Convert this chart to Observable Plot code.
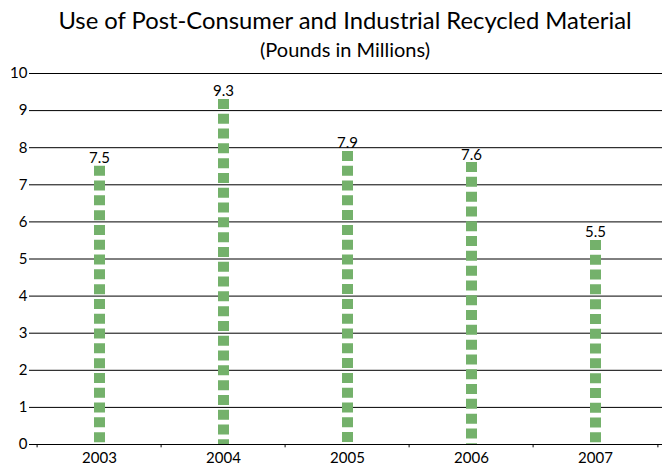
<!DOCTYPE html>
<html><head><meta charset="utf-8">
<script src="https://cdn.jsdelivr.net/npm/d3@7"></script>
<script src="https://cdn.jsdelivr.net/npm/@observablehq/plot@0.6"></script>
<style>
body{margin:0;background:#fff;font-family:Lato,"Open Sans",sans-serif;color:#000}
#wrap{width:662px}
#title{margin-left:32px;width:626px;height:36px;line-height:40px;font-size:23.8px;text-align:center;white-space:nowrap}
#subtitle{margin-left:32px;width:626px;height:26px;line-height:27px;font-size:20px;text-align:center}
svg{display:block}
</style></head><body>
<div id="wrap"><div id="title"></div><div id="subtitle"></div><div id="chart"></div></div>
<script>
const titleText = "Use of Post-Consumer and Industrial Recycled Material";
const subtitleText = "(Pounds in Millions)";
const years = ["2003", "2004", "2005", "2006", "2007"];
const values = [7.5, 9.3, 7.9, 7.6, 5.5];
const yTicks = [0, 1, 2, 3, 4, 5, 6, 7, 8, 9, 10];

document.getElementById("title").textContent = titleText;
document.getElementById("subtitle").textContent = subtitleText;

const data = years.map((year, i) => ({year, value: values[i]}));
const half = 624 / 5 / 2;

const chart = Plot.plot({
  width: 662,
  height: 406,
  marginTop: 11,
  marginBottom: 24,
  marginLeft: 35,
  marginRight: 0,
  style: {fontFamily: "Lato, 'Open Sans', sans-serif", fontSize: "15px", color: "#000", background: "#fff"},
  x: {type: "point", domain: years, range: [35, 659], padding: 0.5, label: null},
  y: {domain: [0, 10], label: null},
  marks: [
    Plot.gridY(yTicks, {stroke: "#000", strokeOpacity: 1, strokeWidth: 1}),
    Plot.axisY(yTicks, {tickSize: 6, tickPadding: 2, stroke: "#000", fontSize: 15, label: null}),
    Plot.ruleX(data, {x: "year", y1: 0, y2: -0.09, dx: -half, stroke: "#000"}),
    Plot.ruleX(data.slice(-1), {x: "year", y1: 0, y2: -0.09, dx: half, stroke: "#000"}),
    Plot.axisX({tickSize: 0, tickPadding: 8, fontSize: 15, label: null}),
    Plot.ruleX(data, {x: "year", y1: "value", y2: 0, stroke: "#74b16b", strokeWidth: 11, strokeDasharray: "10,4.8"}),
    Plot.text(data, {x: "year", y: "value", text: d => d.value.toFixed(1), lineAnchor: "bottom", dy: -3, fontSize: 15, fill: "#000"})
  ]
});
document.getElementById("chart").appendChild(chart);
</script>
</body></html>
